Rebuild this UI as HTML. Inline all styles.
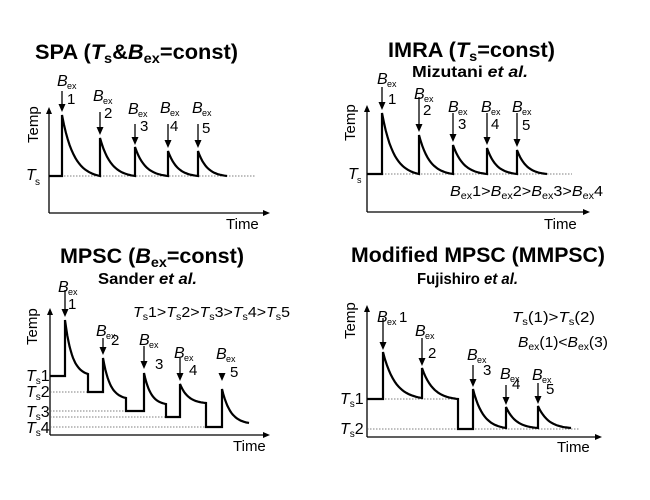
<!DOCTYPE html>
<html><head><meta charset="utf-8"><style>
html,body{margin:0;padding:0;background:#fff;}
svg{display:block;font-family:"Liberation Sans",sans-serif;}
.t{font-weight:bold;font-size:21px;}
.s{font-weight:bold;font-size:16px;}
.l{font-size:15px;}
.a{stroke:#000;stroke-width:1.3;fill:none;}
.c{stroke:#000;stroke-width:2.2;fill:none;stroke-linejoin:miter;}
.d{stroke:#555;stroke-width:0.8;stroke-dasharray:1.5,1.5;fill:none;}
</style></head><body>
<svg id="sv" width="650" height="500" viewBox="0 0 650 500" xmlns="http://www.w3.org/2000/svg">
<g id="g"></g>
<!-- Panel 1 -->
<text class="t" x="35" y="59" textLength="203" lengthAdjust="spacingAndGlyphs">SPA (<tspan font-style="italic">T</tspan><tspan font-size="14" dy="4">s</tspan><tspan dy="-4">&amp;</tspan><tspan font-style="italic">B</tspan><tspan font-size="14" dy="4">ex</tspan><tspan dy="-4">=const)</tspan></text>
<text class="l" transform="translate(38,143) rotate(-90)">Temp</text>
<text class="l" x="226" y="229">Time</text>
<text x="26" y="180" font-style="italic" font-size="16">T</text><text x="35" y="185" font-size="10">s</text>
<!-- Panel 2 -->
<text class="t" x="388" y="57" textLength="167" lengthAdjust="spacingAndGlyphs">IMRA (<tspan font-style="italic">T</tspan><tspan font-size="14" dy="4">s</tspan><tspan dy="-4">=const)</tspan></text>
<text class="s" x="412" y="77" textLength="116" lengthAdjust="spacingAndGlyphs">Mizutani <tspan font-style="italic">et al.</tspan></text>
<text class="l" transform="translate(355,141) rotate(-90)">Temp</text>
<text class="l" x="544" y="229">Time</text>
<text x="348" y="179" font-style="italic" font-size="16">T</text><text x="357" y="183" font-size="9">s</text>
<text class="l" x="450" y="196" textLength="153" lengthAdjust="spacingAndGlyphs"><tspan font-style="italic">B</tspan><tspan font-size="10" dy="3">ex</tspan><tspan dy="-3">1&gt;</tspan><tspan font-style="italic">B</tspan><tspan font-size="10" dy="3">ex</tspan><tspan dy="-3">2&gt;</tspan><tspan font-style="italic">B</tspan><tspan font-size="10" dy="3">ex</tspan><tspan dy="-3">3&gt;</tspan><tspan font-style="italic">B</tspan><tspan font-size="10" dy="3">ex</tspan><tspan dy="-3">4</tspan></text>
<!-- Panel 3 -->
<text class="t" x="60" y="263" textLength="184" lengthAdjust="spacingAndGlyphs">MPSC (<tspan font-style="italic">B</tspan><tspan font-size="14" dy="4">ex</tspan><tspan dy="-4">=const)</tspan></text>
<text class="s" x="98" y="284" textLength="99" lengthAdjust="spacingAndGlyphs">Sander <tspan font-style="italic">et al.</tspan></text>
<text class="l" transform="translate(37,345) rotate(-90)">Temp</text>
<text class="l" x="233" y="451">Time</text>
<text class="l" x="133" y="317" font-size="16" textLength="157" lengthAdjust="spacingAndGlyphs"><tspan font-style="italic">T</tspan><tspan font-size="10" dy="3">s</tspan><tspan dy="-3">1&gt;</tspan><tspan font-style="italic">T</tspan><tspan font-size="10" dy="3">s</tspan><tspan dy="-3">2&gt;</tspan><tspan font-style="italic">T</tspan><tspan font-size="10" dy="3">s</tspan><tspan dy="-3">3&gt;</tspan><tspan font-style="italic">T</tspan><tspan font-size="10" dy="3">s</tspan><tspan dy="-3">4&gt;</tspan><tspan font-style="italic">T</tspan><tspan font-size="10" dy="3">s</tspan><tspan dy="-3">5</tspan></text>
<g font-size="16">
<text x="26" y="381"><tspan font-style="italic">T</tspan><tspan font-size="10" dy="3">s</tspan><tspan dy="-3">1</tspan></text>
<text x="26" y="397"><tspan font-style="italic">T</tspan><tspan font-size="10" dy="3">s</tspan><tspan dy="-3">2</tspan></text>
<text x="26" y="417"><tspan font-style="italic">T</tspan><tspan font-size="10" dy="3">s</tspan><tspan dy="-3">3</tspan></text>
<text x="26" y="433"><tspan font-style="italic">T</tspan><tspan font-size="10" dy="3">s</tspan><tspan dy="-3">4</tspan></text>
</g>
<!-- Panel 4 -->
<text class="t" x="351" y="262" textLength="254" lengthAdjust="spacingAndGlyphs">Modified MPSC (MMPSC)</text>
<text class="s" x="417" y="284" textLength="101" lengthAdjust="spacingAndGlyphs">Fujishiro <tspan font-style="italic">et al.</tspan></text>
<text class="l" transform="translate(355,339) rotate(-90)">Temp</text>
<text class="l" x="557" y="452">Time</text>
<text class="l" x="512" y="322" textLength="83" lengthAdjust="spacingAndGlyphs"><tspan font-style="italic">T</tspan><tspan font-size="10" dy="3">s</tspan><tspan dy="-3">(1)&gt;</tspan><tspan font-style="italic">T</tspan><tspan font-size="10" dy="3">s</tspan><tspan dy="-3">(2)</tspan></text>
<text class="l" x="518" y="347" textLength="90" lengthAdjust="spacingAndGlyphs"><tspan font-style="italic">B</tspan><tspan font-size="10" dy="3">ex</tspan><tspan dy="-3">(1)&lt;</tspan><tspan font-style="italic">B</tspan><tspan font-size="10" dy="3">ex</tspan><tspan dy="-3">(3)</tspan></text>
<g font-size="16">
<text x="340" y="404"><tspan font-style="italic">T</tspan><tspan font-size="10" dy="3">s</tspan><tspan dy="-3">1</tspan></text>
<text x="340" y="434"><tspan font-style="italic">T</tspan><tspan font-size="10" dy="3">s</tspan><tspan dy="-3">2</tspan></text>
</g>
</svg>
<script>
var NS="http://www.w3.org/2000/svg",g=document.getElementById("g");
function el(n,a,txt){var e=document.createElementNS(NS,n);for(var k in a)e.setAttribute(k,a[k]);if(txt!=null)e.textContent=txt;g.appendChild(e);return e;}
function axes(x,top,bot,right){
 el("path",{d:"M"+x+" "+bot+"V"+(top+4)+"M"+x+" "+bot+"H"+(right-5),class:"a"});
 el("path",{d:"M"+(x-3)+" "+(top+7)+"L"+x+" "+top+"L"+(x+3)+" "+(top+7)+"Z",fill:"#000"});
 el("path",{d:"M"+(right-7)+" "+(bot-3)+"L"+right+" "+bot+"L"+(right-7)+" "+(bot+3)+"Z",fill:"#000"});
}
function dec(x0,x1,yp,ye){var s="";for(var i=0;i<=20;i++){var t=i/20;var y=ye+(yp-ye)*(Math.exp(-3.2*t)-Math.exp(-3.2))/(1-Math.exp(-3.2));s+="L"+(x0+(x1-x0)*t).toFixed(1)+" "+y.toFixed(1);}return s;}
function curve(d){el("path",{d:d,class:"c"});}
function dot(x0,x1,y){el("path",{d:"M"+x0+" "+y+"H"+x1,class:"d"});}
function arrow(x,y0,y1){el("path",{d:"M"+x+" "+y0+"V"+(y1-6),class:"a"});el("path",{d:"M"+(x-3.5)+" "+(y1-8)+"L"+x+" "+y1+"L"+(x+3.5)+" "+(y1-8)+"Z",fill:"#000"});}
function bex(x,y,n,nx,ny){el("text",{x:x,y:y,"font-size":16,"font-style":"italic"},"B");el("text",{x:x+10,y:y+3,"font-size":9},"ex");if(n)el("text",{x:nx,y:ny,"font-size":15},n);}
// panel 1
axes(49,107,213,270);dot(49,256,176);
var P=[[62,115],[100,138],[135,147],[168,151],[198,151]],E=[100,135,168,198,227];
var d="M49 176H62";P.forEach(function(p,i){d+="L"+p[0]+" "+p[1]+dec(p[0],E[i],p[1],176);});curve(d);
[[62,91,112,57,86,"1",67,104],[100,112,135,93,101,"2",104,118],[135,124,145,128,114,"3",140,131],[168,124,148,160,113,"4",170,131],[198,124,148,192,113,"5",202,133]].forEach(function(a){arrow(a[0],a[1],a[2]);bex(a[3],a[4],a[5],a[6],a[7]);});
// panel 2
axes(367,105,212,590);dot(367,572,174);
P=[[382,113],[419,135],[453,145],[487,148],[517,150]];E=[419,453,487,517,547];
d="M367 174H382";P.forEach(function(p,i){d+="L"+p[0]+" "+p[1]+dec(p[0],E[i],p[1],174);});curve(d);
[[382,87,110,377,84,"1",388,104],[419,97,132,414,99,"2",423,115],[453,113,142,448,112,"3",458,129],[487,113,145,481,112,"4",491,129],[517,113,147,512,112,"5",522,130]].forEach(function(a){arrow(a[0],a[1],a[2]);bex(a[3],a[4],a[5],a[6],a[7]);});
// panel 3
axes(50,308,435,270);
dot(50,88,392);dot(50,126,411);dot(50,166,417);dot(50,206,427);
d="M50 376H65L65 320"+dec(65,88,320,374)+"L88 392H103L103 358"+dec(103,126,358,398)+"L126 411H144L144 373"+dec(144,166,373,404)+"L166 417H180L180 384"+dec(180,206,384,403)+"L206 427H222L222 389"+dec(222,249,389,423);
curve(d);
[[65,290,317,58,292,"1",68,309],[103,338,355,96,336,"2",111,345],[144,346,369,139,345,"3",155,369],[180,358,381,174,358,"4",189,375],[222,374,381,216,359,"5",230,377]].forEach(function(a){arrow(a[0],a[1],a[2]);bex(a[3],a[4],a[5],a[6],a[7]);});
// panel 4
axes(367,305,437,602);
dot(367,458,399);dot(367,580,429);
d="M367 399H383L383 352"+dec(383,422,352,398)+"L422 368"+dec(422,458,368,399)+"L458 429H473L473 389"+dec(473,506,389,428)+"L506 407"+dec(506,538,407,428)+"L538 406"+dec(538,571,406,428);
curve(d);
[[383,318,350,377,322,"1",399,322],[422,338,366,415,336,"2",428,358],[473,365,387,467,360,"3",483,375],[506,385,405,500,379,"4",512,389],[538,383,404,532,380,"5",546,394]].forEach(function(a){arrow(a[0],a[1],a[2]);bex(a[3],a[4],a[5],a[6],a[7]);});
</script>
</body></html>
